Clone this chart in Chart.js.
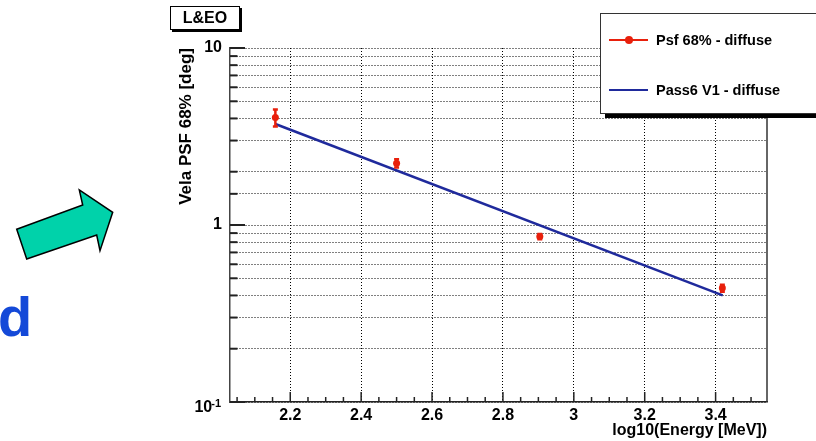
<!DOCTYPE html>
<html>
<head>
<meta charset="utf-8">
<script src="https://cdn.jsdelivr.net/npm/chart.js@4"></script>
<style>
  html, body { margin: 0; padding: 0; background: #fff; }
  #wrap { position: relative; width: 816px; height: 441px; overflow: hidden;
          font-family: 'Liberation Sans', Arial, Helvetica, sans-serif; font-weight: bold; }
  #psfChart { position: absolute; left: 0; top: 0; }
  .tag { position: absolute; left: 170px; top: 6px; width: 68px; height: 22px;
         border: 1px solid #000; background: #fff; box-shadow: 2px 2px 0 #000;
         font-size: 16px; line-height: 22px; text-align: center; }
  .legend { position: absolute; left: 600px; top: 13px; width: 240px; height: 99px;
            border: 1px solid #333; background: #fff; box-shadow: 5px 4px 0 #000; }
  .entry { position: absolute; left: 8px; height: 20px; font-size: 14.5px; line-height: 20px; }
  .entry .sym { position: absolute; left: 0; top: 9px; width: 39px; height: 2px; }
  .entry .dot { position: absolute; left: 16px; top: -3px; width: 8px; height: 8px; border-radius: 50%; }
  .entry span { position: absolute; left: 47px; top: 0; white-space: nowrap; }
  #deco { position: absolute; left: 0; top: 0; }
</style>
</head>
<body>
<div id="wrap">
  <canvas id="psfChart" width="816" height="441"></canvas>
  <svg id="deco" width="160" height="441">
    <polygon points="26.7,259 16.7,229.3 82.7,205 79.3,190 112.7,212.3 100,250.7 96.7,235"
             fill="#00d2aa" stroke="#000" stroke-width="1.5" stroke-linejoin="miter"/>
    <text x="-2" y="336" font-family="Liberation Sans, Arial, sans-serif" font-weight="bold"
          font-size="56" fill="#1449d8">d</text>
  </svg>
  <div class="tag">L&amp;EO</div>
  <div class="legend">
    <div class="entry" style="top:16px">
      <div class="sym" style="background:#e8200c"><div class="dot" style="background:#e8200c"></div></div>
      <span>Psf 68% - diffuse</span>
    </div>
    <div class="entry" style="top:66px">
      <div class="sym" style="background:#1f2a9c"></div>
      <span>Pass6 V1 - diffuse</span>
    </div>
  </div>
</div>
<script>
const psfX = [2.158, 2.500, 2.904, 3.419];
const psfY = [4.05, 2.23, 0.86, 0.44];
const psfErr = [0.45, 0.12, 0.03, 0.02];

// Pass6 V1 curve, straight on log-y
const fitX = [2.158, 3.42];
const fitY = [3.72, 0.40];

const xMin = 2.03, xMax = 3.545;
const yMin = 0.1, yMax = 10;
const yTickLabels = { '10': '10', '1': '1' };

const FONT = "'Liberation Sans', Arial, Helvetica, sans-serif";
const RED = '#e8200c';
const BLUE = '#1f2a9c';

const isMajorX = v => Math.abs(v * 5 - Math.round(v * 5)) < 1e-6;
const isDecade = v => Math.abs(Math.log10(v) - Math.round(Math.log10(v))) < 1e-6;

// error bars, inward ticks, right frame line and the 10^-1 label
const rootFrame = {
    id: 'rootFrame',
    afterDatasetsDraw(chart) {
        const { ctx, scales: { x, y } } = chart;
        ctx.save();
        ctx.strokeStyle = RED;
        ctx.lineWidth = 2.5;
        psfX.forEach((px, i) => {
            const cx = x.getPixelForValue(px);
            const top = y.getPixelForValue(psfY[i] + psfErr[i]);
            const bot = y.getPixelForValue(psfY[i] - psfErr[i]);
            ctx.beginPath();
            ctx.moveTo(cx, top); ctx.lineTo(cx, bot);
            ctx.moveTo(cx - 2.5, top); ctx.lineTo(cx + 2.5, top);
            ctx.moveTo(cx - 2.5, bot); ctx.lineTo(cx + 2.5, bot);
            ctx.stroke();
        });
        ctx.restore();
    },
    afterDraw(chart) {
        const { ctx, chartArea: a, scales: { x, y } } = chart;
        ctx.save();
        ctx.setLineDash([]);
        ctx.strokeStyle = '#222';
        ctx.lineWidth = 1.5;
        x.ticks.forEach(t => {
            const px = x.getPixelForValue(t.value);
            const len = isMajorX(t.value) ? 10 : 5;
            ctx.beginPath();
            ctx.moveTo(px, a.bottom); ctx.lineTo(px, a.bottom - len);
            ctx.stroke();
        });
        ctx.lineWidth = 2;
        y.ticks.forEach(t => {
            const py = y.getPixelForValue(t.value);
            const len = isDecade(t.value) ? 15 : 7.5;
            ctx.beginPath();
            ctx.moveTo(a.left, py); ctx.lineTo(a.left + len, py);
            ctx.stroke();
        });
        ctx.lineWidth = 1.5;
        ctx.strokeStyle = '#333';
        ctx.beginPath();
        ctx.moveTo(a.right, a.top); ctx.lineTo(a.right, a.bottom);
        ctx.stroke();

        // bottom decade label with a real superscript
        const py = y.getPixelForValue(yMin);
        const rx = a.left - 9;
        ctx.fillStyle = '#000';
        ctx.textAlign = 'right';
        ctx.textBaseline = 'alphabetic';
        ctx.font = 'bold 11px ' + FONT;
        const sup = '-1';
        const supW = ctx.measureText(sup).width;
        ctx.fillText(sup, rx, py + 5);
        ctx.font = 'bold 16px ' + FONT;
        ctx.fillText('10', rx - supW + 1, py + 10);
        ctx.restore();
    }
};

function initChart() {
    const ctx = document.getElementById('psfChart').getContext('2d');

    const data = {
        datasets: [
            {
                label: 'Pass6 V1 - diffuse',
                data: fitX.map((v, i) => ({ x: v, y: fitY[i] })),
                showLine: true,
                borderColor: BLUE,
                borderWidth: 2.5,
                pointRadius: 0,
                order: 2
            },
            {
                label: 'Psf 68% - diffuse',
                data: psfX.map((v, i) => ({ x: v, y: psfY[i] })),
                backgroundColor: RED,
                borderColor: RED,
                borderWidth: 0,
                pointRadius: 3.5,
                order: 1
            }
        ]
    };

    const config = {
        type: 'scatter',
        data: data,
        options: {
            responsive: false,
            animation: false,
            devicePixelRatio: 1,
            layout: { padding: { left: 170, top: 48, right: 49, bottom: 0 } },
            plugins: { legend: { display: false }, tooltip: { enabled: false } },
            scales: {
                x: {
                    type: 'linear',
                    min: xMin,
                    max: xMax,
                    afterFit: s => { s.height = 39; },
                    border: { display: true, color: '#222', width: 1.5, dash: [1, 2] },
                    grid: {
                        drawTicks: false,
                        color: c => (c.tick && isMajorX(c.tick.value)) ? '#000' : 'rgba(0,0,0,0)',
                        lineWidth: 1
                    },
                    ticks: {
                        stepSize: 0.05,
                        includeBounds: false,
                        autoSkip: false,
                        maxRotation: 0,
                        padding: 4,
                        color: '#000',
                        font: { family: FONT, size: 16, weight: 'bold' },
                        callback: v => isMajorX(v) ? String(Math.round(v * 10) / 10) : ''
                    },
                    title: {
                        display: true,
                        text: 'log10(Energy [MeV])',
                        align: 'end',
                        color: '#000',
                        padding: { top: 0, bottom: 1 },
                        font: { family: FONT, size: 16, weight: 'bold' }
                    }
                },
                y: {
                    type: 'logarithmic',
                    min: yMin,
                    max: yMax,
                    afterFit: s => { s.width = 60; },
                    border: { display: true, color: '#444', width: 1.5, dash: [1, 2] },
                    grid: {
                        drawTicks: false,
                        color: '#000',
                        lineWidth: 1
                    },
                    ticks: {
                        autoSkip: false,
                        padding: 8,
                        color: '#000',
                        font: { family: FONT, size: 16, weight: 'bold' },
                        callback: v => yTickLabels[String(Math.round(v * 1000) / 1000)] || ''
                    },
                    title: {
                        display: true,
                        text: 'Vela PSF 68% [deg]',
                        align: 'end',
                        color: '#000',
                        padding: { top: 6, bottom: 0 },
                        font: { family: FONT, size: 17, weight: 'bold' }
                    }
                }
            }
        },
        plugins: [rootFrame]
    };

    new Chart(ctx, config);
}

document.addEventListener('DOMContentLoaded', initChart);
</script>
</body>
</html>
